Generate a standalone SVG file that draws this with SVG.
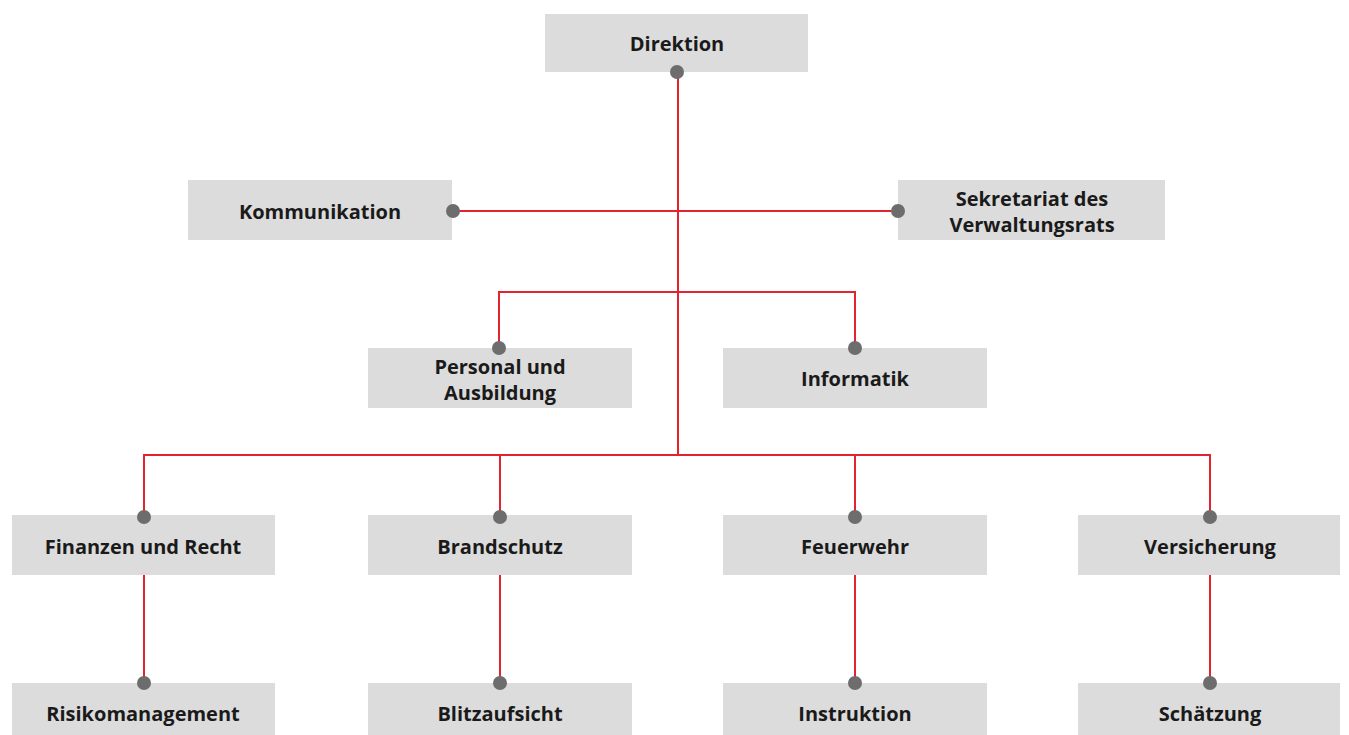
<svg xmlns="http://www.w3.org/2000/svg" width="1349" height="735" viewBox="0 0 1349 735">
<style>
.box{fill:#dcdcdc}
.t{font-family:"Open Sans","Liberation Sans",sans-serif;font-weight:bold;font-size:20px;fill:#1a1a1a;text-anchor:middle}
.ln{stroke:#e3232d;stroke-width:2;fill:none}
.dot{fill:#6d6d6d}
</style>
<rect width="1349" height="735" fill="#ffffff"/>
<g id="connectors">
<path class="ln" d="M678 72 V455"/>
<path class="ln" d="M453 211 H898"/>
<path class="ln" d="M499 348 V292 H855 V348"/>
<path class="ln" d="M144 517 V455 H1210 V517"/>
<path class="ln" d="M500 455 V517"/>
<path class="ln" d="M855 455 V517"/>
<path class="ln" d="M144 575 V683"/>
<path class="ln" d="M500 575 V683"/>
<path class="ln" d="M855 575 V683"/>
<path class="ln" d="M1210 575 V683"/>
</g>
<g id="direktion"><rect class="box" x="545" y="14" width="263" height="58"/><text class="t" x="677" y="51">Direktion</text><circle class="dot" cx="677" cy="72" r="7"/></g>
<g id="kommunikation"><rect class="box" x="188" y="180" width="264" height="60"/><text class="t" x="320" y="219">Kommunikation</text><circle class="dot" cx="453" cy="211" r="7"/></g>
<g id="sekretariat"><rect class="box" x="898" y="180" width="267" height="60"/><text class="t" x="1032" y="206">Sekretariat des</text><text class="t" x="1032" y="232">Verwaltungsrats</text><circle class="dot" cx="898" cy="211" r="7"/></g>
<g id="personal"><rect class="box" x="368" y="348" width="264" height="60"/><text class="t" x="500" y="374">Personal und</text><text class="t" x="500" y="400">Ausbildung</text><circle class="dot" cx="499" cy="348" r="7"/></g>
<g id="informatik"><rect class="box" x="723" y="348" width="264" height="60"/><text class="t" x="855" y="386">Informatik</text><circle class="dot" cx="855" cy="348" r="7"/></g>
<g id="finanzen"><rect class="box" x="12" y="515" width="263" height="60"/><text class="t" x="143" y="554">Finanzen und Recht</text><circle class="dot" cx="144" cy="517" r="7"/></g>
<g id="brandschutz"><rect class="box" x="368" y="515" width="264" height="60"/><text class="t" x="500" y="554">Brandschutz</text><circle class="dot" cx="500" cy="517" r="7"/></g>
<g id="feuerwehr"><rect class="box" x="723" y="515" width="264" height="60"/><text class="t" x="855" y="554">Feuerwehr</text><circle class="dot" cx="855" cy="517" r="7"/></g>
<g id="versicherung"><rect class="box" x="1078" y="515" width="262" height="60"/><text class="t" x="1210" y="554">Versicherung</text><circle class="dot" cx="1210" cy="517" r="7"/></g>
<g id="risiko"><rect class="box" x="12" y="683" width="263" height="60"/><text class="t" x="143" y="721">Risikomanagement</text><circle class="dot" cx="144" cy="683" r="7"/></g>
<g id="blitz"><rect class="box" x="368" y="683" width="264" height="60"/><text class="t" x="500" y="721">Blitzaufsicht</text><circle class="dot" cx="500" cy="683" r="7"/></g>
<g id="instruktion"><rect class="box" x="723" y="683" width="264" height="60"/><text class="t" x="855" y="721">Instruktion</text><circle class="dot" cx="855" cy="683" r="7"/></g>
<g id="schaetzung"><rect class="box" x="1078" y="683" width="262" height="60"/><text class="t" x="1210" y="721">Schätzung</text><circle class="dot" cx="1210" cy="683" r="7"/></g>
</svg>
